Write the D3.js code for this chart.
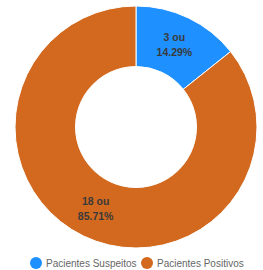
<!DOCTYPE html>
<html>
<head>
<meta charset="utf-8">
<script src="https://cdn.jsdelivr.net/npm/d3@7"></script>
<style>
body { margin:0; background:#fff; }
text { font-family: "Liberation Sans", Arial, sans-serif; }
</style>
</head>
<body>
<div id="chart"></div>
<script>
var labels = ["Pacientes Suspeitos", "Pacientes Positivos"];
var values = [3, 18];
var colors = ["#1E90FF", "#D2691E"];

var width = 263, height = 270;
var cx = 136, cy = 127;
var outerR = 121, innerR = 60.5;

var svg = d3.select("#chart")
    .append("svg")
    .attr("width", width)
    .attr("height", height);

var g = svg.append("g")
    .attr("transform", "translate(" + cx + "," + cy + ")");

var total = d3.sum(values);

var pie = d3.pie().sort(null).value(function(d){ return d; });
var arc = d3.arc().innerRadius(innerR).outerRadius(outerR);

var arcs = pie(values);

g.selectAll("path")
    .data(arcs)
    .enter().append("path")
    .attr("d", arc)
    .style("fill", function(d, i){ return colors[i]; })
    .attr("stroke", "#fff")
    .attr("stroke-width", 1);

// labels at arc centroid, two lines
var lbl = g.selectAll(".lbl")
    .data(arcs)
    .enter().append("text")
    .attr("class", "lbl")
    .attr("text-anchor", "middle")
    .attr("font-size", 10.5)
    .attr("font-weight", "bold")
    .attr("fill", "#3a3a3a")
    .attr("transform", function(d){ var c = arc.centroid(d); return "translate(" + (c[0]-1) + "," + c[1] + ")"; });

lbl.append("tspan")
    .attr("x", 0)
    .attr("y", -4)
    .text(function(d){ return d.data + " ou"; });
lbl.append("tspan")
    .attr("x", 0)
    .attr("y", 11)
    .text(function(d){ return (d.data / total * 100).toFixed(2) + "%"; });

// legend
var legend = svg.append("g");
var legX = [36, 147];
labels.forEach(function(name, i){
    legend.append("circle")
        .attr("cx", legX[i])
        .attr("cy", 263)
        .attr("r", 6)
        .style("fill", colors[i]);
    legend.append("text")
        .attr("x", legX[i] + 10)
        .attr("y", 266.5)
        .attr("font-size", 10)
        .attr("fill", "#666")
        .text(name);
});
</script>
</body>
</html>
